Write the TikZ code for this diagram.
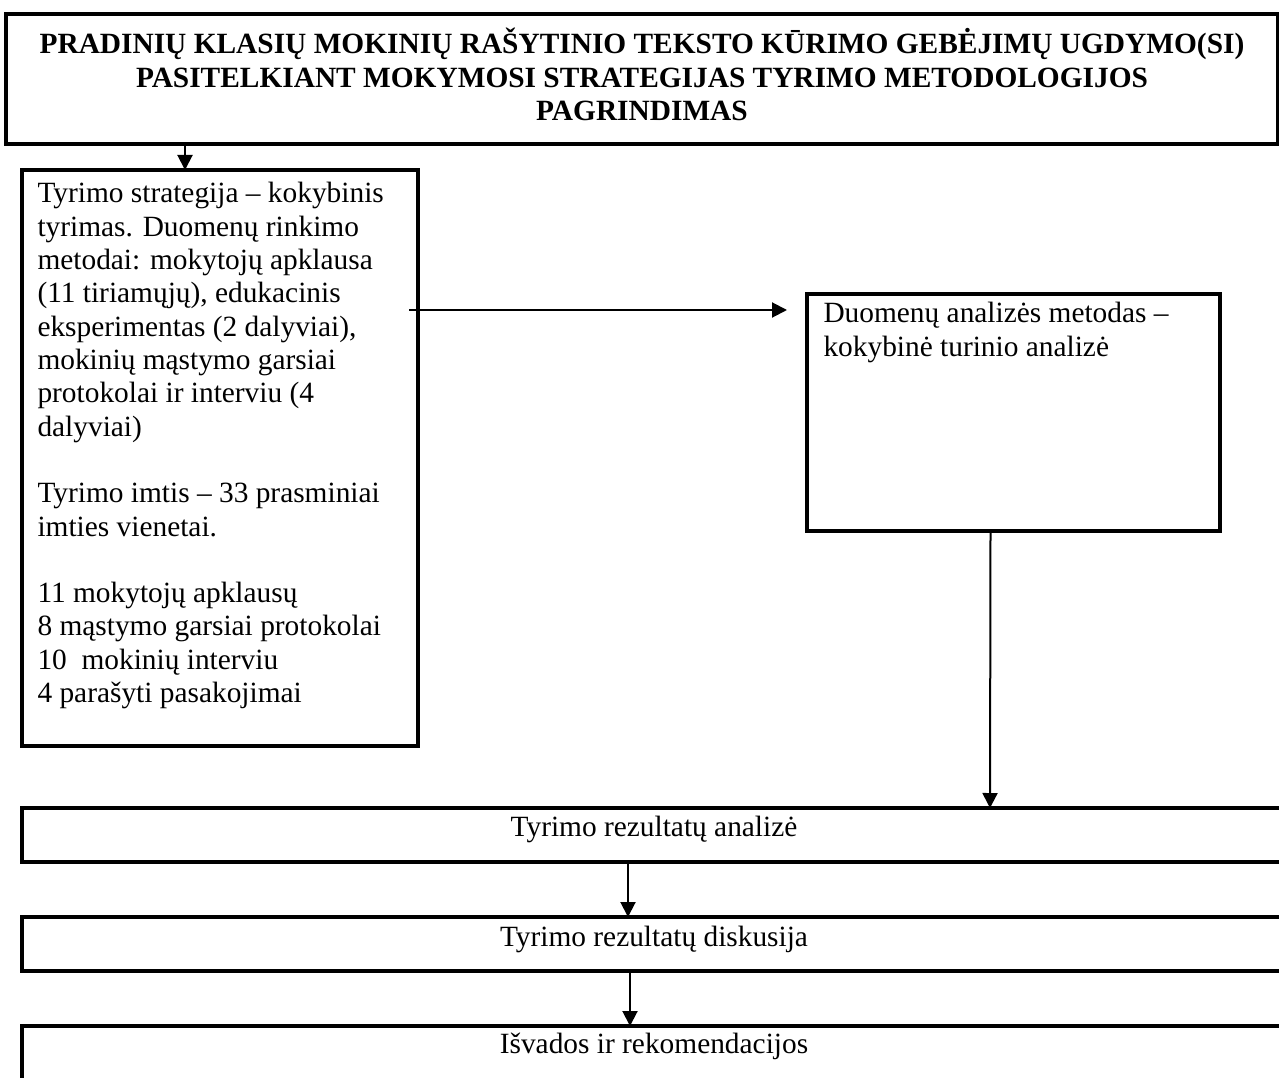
\documentclass[tikz,border=0pt]{standalone}
\usepackage{fontspec}
\setmainfont{Liberation Serif}
\usetikzlibrary{arrows.meta}
\begin{document}
\begin{tikzpicture}[x=0.4pt,y=-0.4pt,
  txt/.style={inner sep=0pt, font=\fontsize{11.75}{13.32}\selectfont},
  boxframe/.style={draw, rectangle, inner sep=0pt, outer sep=0pt, anchor=north west, line width=#1},
  arr/.style={-{Triangle[length=6pt,width=6pt]}, line width=0.8pt},
]
\clip (0,0) rectangle (1279,1078);

% title frame and heading
\node[boxframe=1.3pt, minimum width=508.8pt, minimum height=52pt] (title) at (6,14) {};
\node[txt, anchor=base, font=\fontsize{11.75}{13.32}\selectfont\bfseries] (titletxt) at (642,54)
  {\begin{tabular}[t]{@{}c@{}}
   PRADINIŲ KLASIŲ MOKINIŲ RAŠYTINIO TEKSTO KŪRIMO GEBĖJIMŲ UGDYMO(SI)\\
   PASITELKIANT MOKYMOSI STRATEGIJAS TYRIMO METODOLOGIJOS\\
   PAGRINDIMAS
   \end{tabular}};

% research strategy frame
\node[boxframe=1.7pt, minimum width=158.4pt, minimum height=230.4pt] (lbox) at (22,170) {};
\node[txt, anchor=base west] (ltxt) at (37,203)
  {\begin{tabular}[t]{@{}l@{}}
   Tyrimo strategija – kokybinis\\
   tyrimas. Duomenų rinkimo\\
   metodai: mokytojų apklausa\\
   (11 tiriamųjų), edukacinis\\
   eksperimentas (2 dalyviai),\\
   mokinių mąstymo garsiai\\
   protokolai ir interviu (4\\
   dalyviai)\\
   \\
   Tyrimo imtis – 33 prasminiai\\
   imties vienetai.\\
   \\
   11 mokytojų apklausų\\
   8 mąstymo garsiai protokolai\\
   10\ \ mokinių interviu\\
   4 parašyti pasakojimai
   \end{tabular}};

% data analysis frame
\node[boxframe=1.5pt, minimum width=165.2pt, minimum height=94.8pt] (rbox) at (807,294) {};
\node[txt, anchor=base west] (rtxt) at (823,323)
  {\begin{tabular}[t]{@{}l@{}}
   Duomenų analizės metodas –\\
   kokybinė turinio analizė
   \end{tabular}};

% result stages
\node[boxframe=1.7pt, minimum width=505.6pt, minimum height=21.6pt] (res) at (22,808) {};
\node[txt, anchor=base] (restxt) at (654,836) {Tyrimo rezultatų analizė};
\node[boxframe=1.7pt, minimum width=505.6pt, minimum height=21.6pt] (disc) at (22,917) {};
\node[txt, anchor=base] (disctxt) at (654,946) {Tyrimo rezultatų diskusija};
\node[boxframe=1.7pt, minimum width=505.6pt, minimum height=40pt] (concl) at (22,1026) {};
\node[txt, anchor=base] (concltxt) at (654,1053) {Išvados ir rekomendacijos};

% connectors
\draw[arr] ([shift={(179,0)}]title.south west) -- ([shift={(163,0)}]lbox.north west);
\draw[arr] ([shift={(-9,140)}]lbox.north east) -- ([shift={(-20,16)}]rbox.north west);
\draw[arr] ([shift={(-23,0)}]rbox.south) -- ([shift={(968,0)}]res.north west);
\draw[arr] ([shift={(606,0)}]res.south west) -- ([shift={(606,0)}]disc.north west);
\draw[arr] ([shift={(608,0)}]disc.south west) -- ([shift={(608,0)}]concl.north west);
\end{tikzpicture}
\end{document}
